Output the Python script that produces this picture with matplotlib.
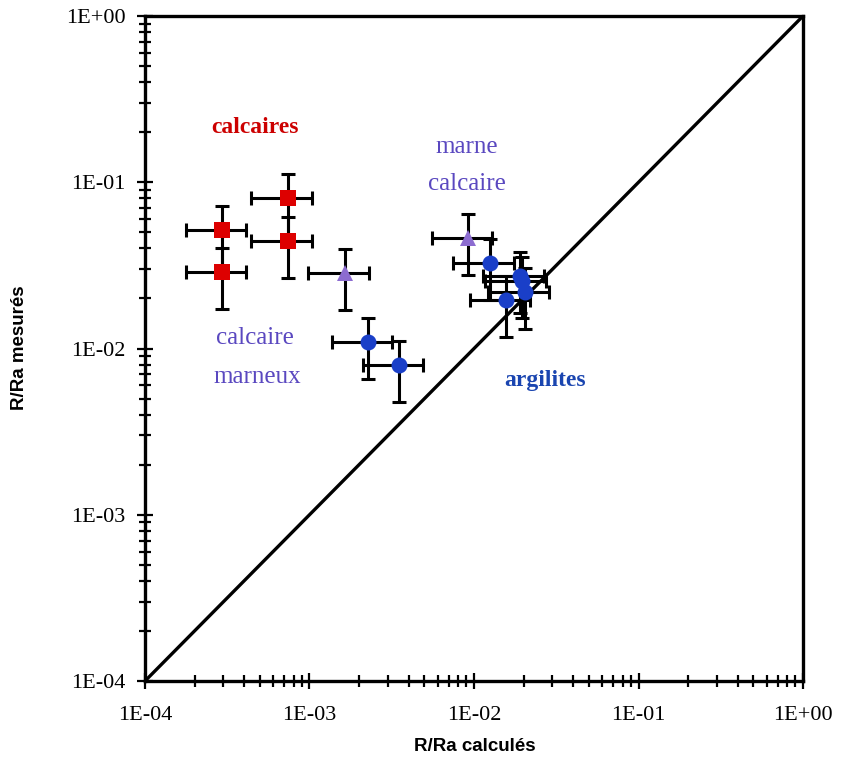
import numpy as np
import matplotlib
matplotlib.use("Agg")
import matplotlib.pyplot as plt
from matplotlib.ticker import LogLocator, FuncFormatter, NullFormatter

calcaires_x = [2.94e-4, 2.94e-4, 7.4e-4, 7.4e-4]
calcaires_y = [5.16e-2, 2.88e-2, 8.0e-2, 4.43e-2]

marne_x = [1.64e-3, 9.2e-3]
marne_y = [2.85e-2, 4.62e-2]

argilites_x = [2.27e-3, 3.5e-3, 1.25e-2, 1.9e-2, 2.04e-2, 1.57e-2, 1.95e-2]
argilites_y = [1.09e-2, 7.96e-3, 3.27e-2, 2.73e-2, 2.19e-2, 1.96e-2, 2.55e-2]

err_frac = 0.4   # error bars as +/- 40 %

fig = plt.figure(figsize=(8.42, 7.71), dpi=100)
ax = fig.add_axes([0.1722, 0.1167, 0.7815, 0.8625])
ax.set_xscale("log")
ax.set_yscale("log")
ax.set_xlim(1e-4, 1)
ax.set_ylim(1e-4, 1)

# 1:1 line
ax.plot([1e-4, 1], [1e-4, 1], color="black", lw=2.4, zorder=1)

def draw(xs, ys, marker, color, ms):
    xs = np.array(xs)
    ys = np.array(ys)
    ax.errorbar(xs, ys, xerr=err_frac * xs, yerr=err_frac * ys, fmt="none",
                ecolor="black", elinewidth=2.2, capsize=5, capthick=2.2, zorder=2)
    ax.plot(xs, ys, linestyle="none", marker=marker, color=color, ms=ms,
            markeredgewidth=0, zorder=3)

draw(calcaires_x, calcaires_y, "s", "#dd0000", 11.5)
draw(marne_x, marne_y, "^", "#8c6cd0", 11)
draw(argilites_x, argilites_y, "o", "#1a3fc8", 11.5)

# labels in the plot
def frac(px, py):
    return (px - 145) / 658.0, (681 - py) / 665.0

ax.text(*frac(255, 127), "calcaires", transform=ax.transAxes, ha="center", va="center",
        family="Liberation Serif", fontsize=17, fontweight="bold", color="#cc0000")
ax.text(*frac(467, 147), "marne", transform=ax.transAxes, ha="center", va="center",
        family="Liberation Serif", fontsize=18, color="#5a48c0")
ax.text(*frac(467, 184), "calcaire", transform=ax.transAxes, ha="center", va="center",
        family="Liberation Serif", fontsize=18, color="#5a48c0")
ax.text(*frac(255, 338), "calcaire", transform=ax.transAxes, ha="center", va="center",
        family="Liberation Serif", fontsize=18, color="#5a48c0")
ax.text(*frac(257, 377), "marneux", transform=ax.transAxes, ha="center", va="center",
        family="Liberation Serif", fontsize=18, color="#5a48c0")
ax.text(*frac(545, 380), "argilites", transform=ax.transAxes, ha="center", va="center",
        family="Liberation Serif", fontsize=17, fontweight="bold", color="#1a45b0")

# axes / ticks
for s in ax.spines.values():
    s.set_linewidth(2.4)
ax.tick_params(which="both", top=False, right=False, direction="inout", width=1.6)
ax.tick_params(which="major", length=12, labelsize=16, pad=8)
ax.tick_params(which="minor", length=8)

fmt = FuncFormatter(lambda v, p: "1E%+03d" % int(round(np.log10(v))))
for axis in (ax.xaxis, ax.yaxis):
    axis.set_major_locator(LogLocator(base=10, numticks=10))
    axis.set_minor_locator(LogLocator(base=10, subs=np.arange(2, 10), numticks=20))
    axis.set_major_formatter(fmt)
    axis.set_minor_formatter(NullFormatter())
for lab in ax.get_xticklabels() + ax.get_yticklabels():
    lab.set_family("Liberation Serif")
ax.tick_params(axis="x", pad=12)

ax.set_xlabel("R/Ra calculés", family="Liberation Sans", fontsize=13.5, fontweight="bold")
ax.set_ylabel("R/Ra mesurés", family="Liberation Sans", fontsize=13.5, fontweight="bold")
ax.xaxis.set_label_coords(frac(475, 746)[0], frac(475, 746)[1])
ax.yaxis.set_label_coords(frac(20, 348)[0], frac(20, 348)[1])
ax.xaxis.label.set_va("center")
ax.yaxis.label.set_va("center")

fig.savefig("out.png", dpi=100)
